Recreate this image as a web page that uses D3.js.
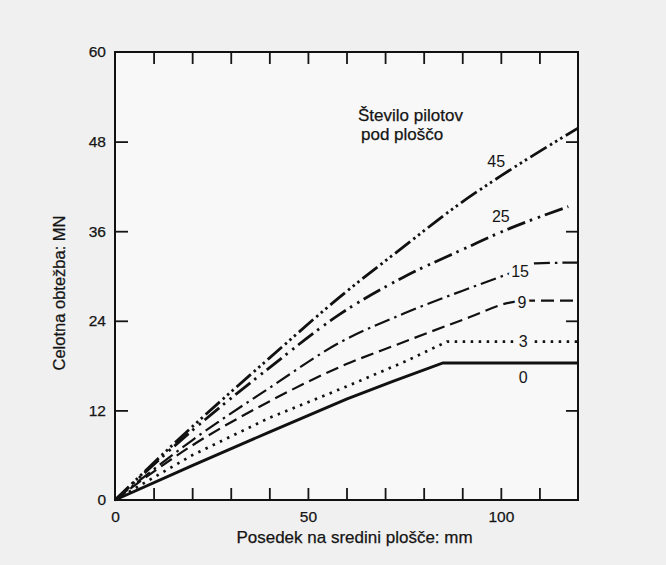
<!DOCTYPE html>
<html>
<head>
<meta charset="utf-8">
<script src="https://cdn.jsdelivr.net/npm/d3@7"></script>
<style>
body { margin: 0; background: #f0f0f0; }
svg { display: block; font-family: 'Liberation Sans', Arial, sans-serif; }
.tick text { font-size: 15.5px; fill: #151515; stroke: #151515; stroke-width: 0.25px; }
.tick line { stroke: #151515; stroke-width: 1.8; }
.curve { fill: none; stroke: #111; }
.curve-label { font-size: 16px; fill: #151515; paint-order: stroke; stroke: #f8f8f8; stroke-width: 7px; }
.title { font-size: 17px; fill: #151515; stroke: #151515; stroke-width: 0.25px; }
</style>
</head>
<body>
<div id="chart"></div>
<script>
'use strict';

// posedek (mm), celotna obtezba (MN), one array per number of piles
let load0 = [[0, 0], [20, 4.6], [40, 9.1], [60, 13.5], [72, 15.9], [85, 18.35], [120, 18.35]];
let load3 = [[0, 0], [20, 6.0], [40, 11.0], [60, 15.2], [75, 18.5], [86, 21.2], [120, 21.2]];
let load9 = [[0, 0], [20, 7.3], [40, 13.2], [60, 18.2], [73, 20.8], [92, 24.5], [102, 26.4], [107, 26.7], [120, 26.7]];
let load15 = [[0, 0], [20, 8.0], [40, 15.0], [58.3, 21.1], [75, 25.0], [92, 28.4], [101.5, 30.2], [109, 31.7], [120, 31.8]];
let load25 = [[0, 0], [20, 9.3], [40, 17.7], [58.3, 24.9], [75, 29.9], [92, 34.0], [97, 35.2], [117.5, 39.3]];
let load45 = [[0, 0], [20, 9.8], [40, 19.0], [58.3, 27.2], [75, 34.0], [89.4, 39.7], [100, 43.4], [120, 49.8]];

let pileCounts = ['0', '3', '9', '15', '25', '45'];
let xTickLabels = [0, 50, 100];
let yTickLabels = [0, 12, 24, 36, 48, 60];

let width = 666;
let height = 565;

let xScale = d3.scaleLinear()
    .domain([0, 120])
    .range([115, 578]);

let yScale = d3.scaleLinear()
    .domain([0, 60])
    .range([500, 52]);

let svg = d3.select('#chart').append('svg')
    .attr('width', width)
    .attr('height', height);

svg.append('rect')
    .attr('x', xScale(0))
    .attr('y', yScale(60))
    .attr('width', xScale(120) - xScale(0))
    .attr('height', yScale(0) - yScale(60))
    .attr('fill', '#f8f8f8');

// inner ticks on all four sides
let minorX = d3.range(10, 120, 10);
let minorY = [12, 24, 36, 48];

svg.append('g')
    .attr('transform', `translate(0, ${yScale(0)})`)
    .call(d3.axisBottom(xScale).tickValues(minorX).tickSize(-12).tickFormat(''));
svg.append('g')
    .attr('transform', `translate(0, ${yScale(60)})`)
    .call(d3.axisTop(xScale).tickValues(minorX).tickSize(-12).tickFormat(''));
svg.append('g')
    .attr('transform', `translate(${xScale(0)}, 0)`)
    .call(d3.axisLeft(yScale).tickValues(minorY).tickSize(-13).tickFormat(''));
svg.append('g')
    .attr('transform', `translate(${xScale(120)}, 0)`)
    .call(d3.axisRight(yScale).tickValues(minorY).tickSize(-12).tickFormat(''));

svg.append('g')
    .attr('transform', `translate(0, ${yScale(0)})`)
    .call(d3.axisBottom(xScale).tickValues(xTickLabels).tickSize(0).tickPadding(11));
svg.append('g')
    .attr('transform', `translate(${xScale(0)}, 0)`)
    .call(d3.axisLeft(yScale).tickValues(yTickLabels).tickSize(0).tickPadding(9));

svg.selectAll('.domain').remove();

let line = d3.line()
    .x(d => xScale(d[0]))
    .y(d => yScale(d[1]));

let series = [
    { n: '0', data: load0, dash: null, w: 2.9, curve: d3.curveLinear },
    { n: '3', data: load3, dash: '2.5,5.5', w: 2.7, curve: d3.curveLinear },
    { n: '9', data: load9, dash: '13,6', w: 2.2, curve: d3.curveMonotoneX },
    { n: '15', data: load15, dash: '16,5,2.5,5', w: 2.2, curve: d3.curveMonotoneX },
    { n: '25', data: load25, dash: '19,5,2.5,6,2.5,5', w: 2.8, curve: d3.curveMonotoneX },
    { n: '45', data: load45, dash: '19,4,2.5,3.5,2.5,3.5,2.5,4', w: 2.8, curve: d3.curveMonotoneX }
];

svg.selectAll('path.curve')
    .data(series)
    .enter()
    .append('path')
    .attr('class', 'curve')
    .attr('d', s => line.curve(s.curve)(s.data))
    .attr('stroke-width', s => s.w)
    .attr('stroke-dasharray', s => s.dash);

// curve labels, placed in data units
let labelAt = { '0': [105.8, 16.4], '3': [105.8, 21.3], '9': [105.5, 26.5], '15': [105, 30.7], '25': [100, 38.0], '45': [98.8, 45.4] };

svg.selectAll('text.curve-label')
    .data(pileCounts)
    .enter()
    .append('text')
    .attr('class', 'curve-label')
    .attr('x', d => xScale(labelAt[d][0]))
    .attr('y', d => yScale(labelAt[d][1]))
    .attr('dy', '0.36em')
    .attr('text-anchor', 'middle')
    .text(d => d);

svg.append('text')
    .attr('class', 'title')
    .attr('x', 358)
    .attr('y', 121)
    .text('Število pilotov');

svg.append('text')
    .attr('class', 'title')
    .attr('x', 361)
    .attr('y', 140)
    .text('pod ploščo');

svg.append('rect')
    .attr('x', xScale(0))
    .attr('y', yScale(60))
    .attr('width', xScale(120) - xScale(0))
    .attr('height', yScale(0) - yScale(60))
    .attr('fill', 'none')
    .attr('stroke', '#111')
    .attr('stroke-width', 2);

svg.append('text')
    .attr('class', 'title')
    .attr('text-anchor', 'middle')
    .attr('transform', `translate(${(xScale(0) + xScale(120)) / 2 + 8}, 543)`)
    .text('Posedek na sredini plošče: mm');

svg.append('text')
    .attr('class', 'title')
    .attr('text-anchor', 'middle')
    .style('font-size', '16.5px')
    .attr('transform', `translate(65, 293), rotate(-90)`)
    .text('Celotna obtežba: MN');
</script>
</body>
</html>
